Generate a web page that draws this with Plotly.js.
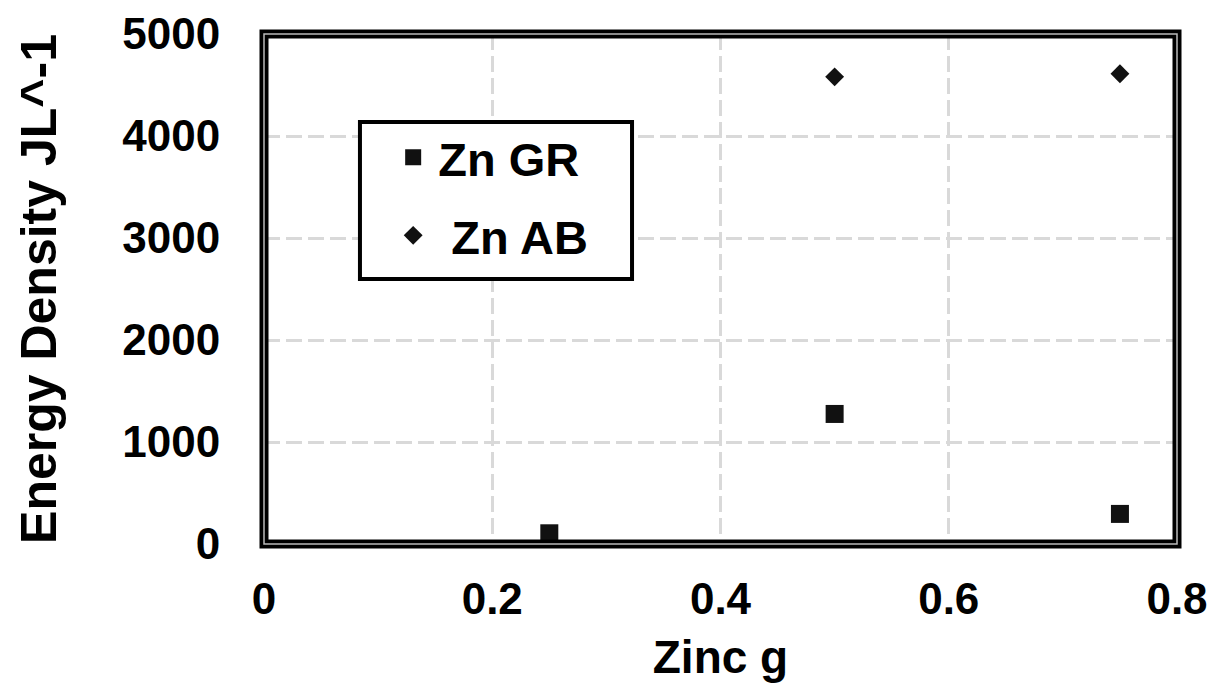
<!DOCTYPE html>
<html><head><meta charset="utf-8">
<script src="https://cdn.plot.ly/plotly-3.0.1.min.js"></script>
<style>html,body{margin:0;padding:0;background:#fff}</style>
</head><body>
<div id="chart" style="width:1214px;height:689px"></div>
<script>
const seriesNames = ["Zn GR", "\u00a0Zn AB"];
const znGrX = [0.25, 0.5, 0.75];
const znGrY = [105, 1275, 295];
const znAbX = [0.5, 0.75];
const znAbY = [4580, 4610];
const xTicks = [0, 0.2, 0.4, 0.6, 0.8];
const xTickText = ["0", "0.2", "0.4", "0.6", "0.8"];
const yTicks = [0, 1000, 2000, 3000, 4000, 5000];
const yTickText = ["0", "1000", "2000", "3000", "4000", "5000"];

const FONT = "Liberation Sans, Arial, sans-serif";
const traces = [
  {x: znGrX, y: znGrY, name: seriesNames[0], type: "scatter", mode: "markers", legendgroup: "a",
   marker: {symbol: "square", size: 18, color: "#111", line: {width: 0}}, cliponaxis: false},
  {x: znAbX, y: znAbY, name: seriesNames[1], type: "scatter", mode: "markers", legendgroup: "b",
   marker: {symbol: "diamond", size: 14.5, color: "#111", line: {width: 0}}, cliponaxis: false}
];
const gridStyle = {showgrid: true, gridcolor: "#d9d9d9", gridwidth: 3, griddash: "16px,6px"};
const layout = {
  width: 1214, height: 689,
  margin: {l: 264, r: 37, t: 34, b: 145},
  paper_bgcolor: "#fff", plot_bgcolor: "#fff",
  font: {family: FONT, color: "#000", size: 44, weight: "bold"},
  showlegend: true,
  legend: {x: 0.136, y: 0.831, xanchor: "left", yanchor: "top",
    borderwidth: 0, bgcolor: "rgba(0,0,0,0)",
    font: {family: FONT, size: 47, color: "#000", weight: "bold"},
    traceorder: "grouped", tracegroupgap: 14, itemwidth: 40},
  xaxis: Object.assign({range: [0, 0.8], tickvals: xTicks, ticktext: xTickText,
    zeroline: false, showline: false, ticks: "outside", ticklen: 16, tickcolor: "rgba(0,0,0,0)",
    tickfont: {family: FONT, size: 44, weight: "bold"},
    title: {text: "Zinc g", font: {family: FONT, size: 46, weight: "bold"}, standoff: 19}}, gridStyle),
  yaxis: Object.assign({range: [0, 5000], tickvals: yTicks, ticktext: yTickText,
    zeroline: false, showline: false, ticks: "outside", ticklen: 34, tickcolor: "rgba(0,0,0,0)",
    tickfont: {family: FONT, size: 44, weight: "bold"},
    title: {text: "Energy Density JL^-1", font: {family: FONT, size: 50, weight: "bold"}, standoff: 49}}, gridStyle),
  shapes: [
    {type: "rect", xref: "paper", yref: "paper", x0: 0.1051, x1: 0.4031, y0: 0.5196, y1: 0.8275,
     line: {color: "#000", width: 4}, fillcolor: "#fff", layer: "above"},
    {type: "rect", xref: "paper", yref: "paper", x0: 0, x1: 1, y0: 0, y1: 1,
     line: {color: "#000", width: 9}, layer: "above"},
    {type: "rect", xref: "paper", yref: "paper", x0: 0, x1: 1, y0: 0, y1: 1,
     line: {color: "#bbb", width: 1.5}, layer: "above"}
  ]
};
Plotly.newPlot("chart", traces, layout, {displayModeBar: false, staticPlot: true});
</script>
</body></html>
